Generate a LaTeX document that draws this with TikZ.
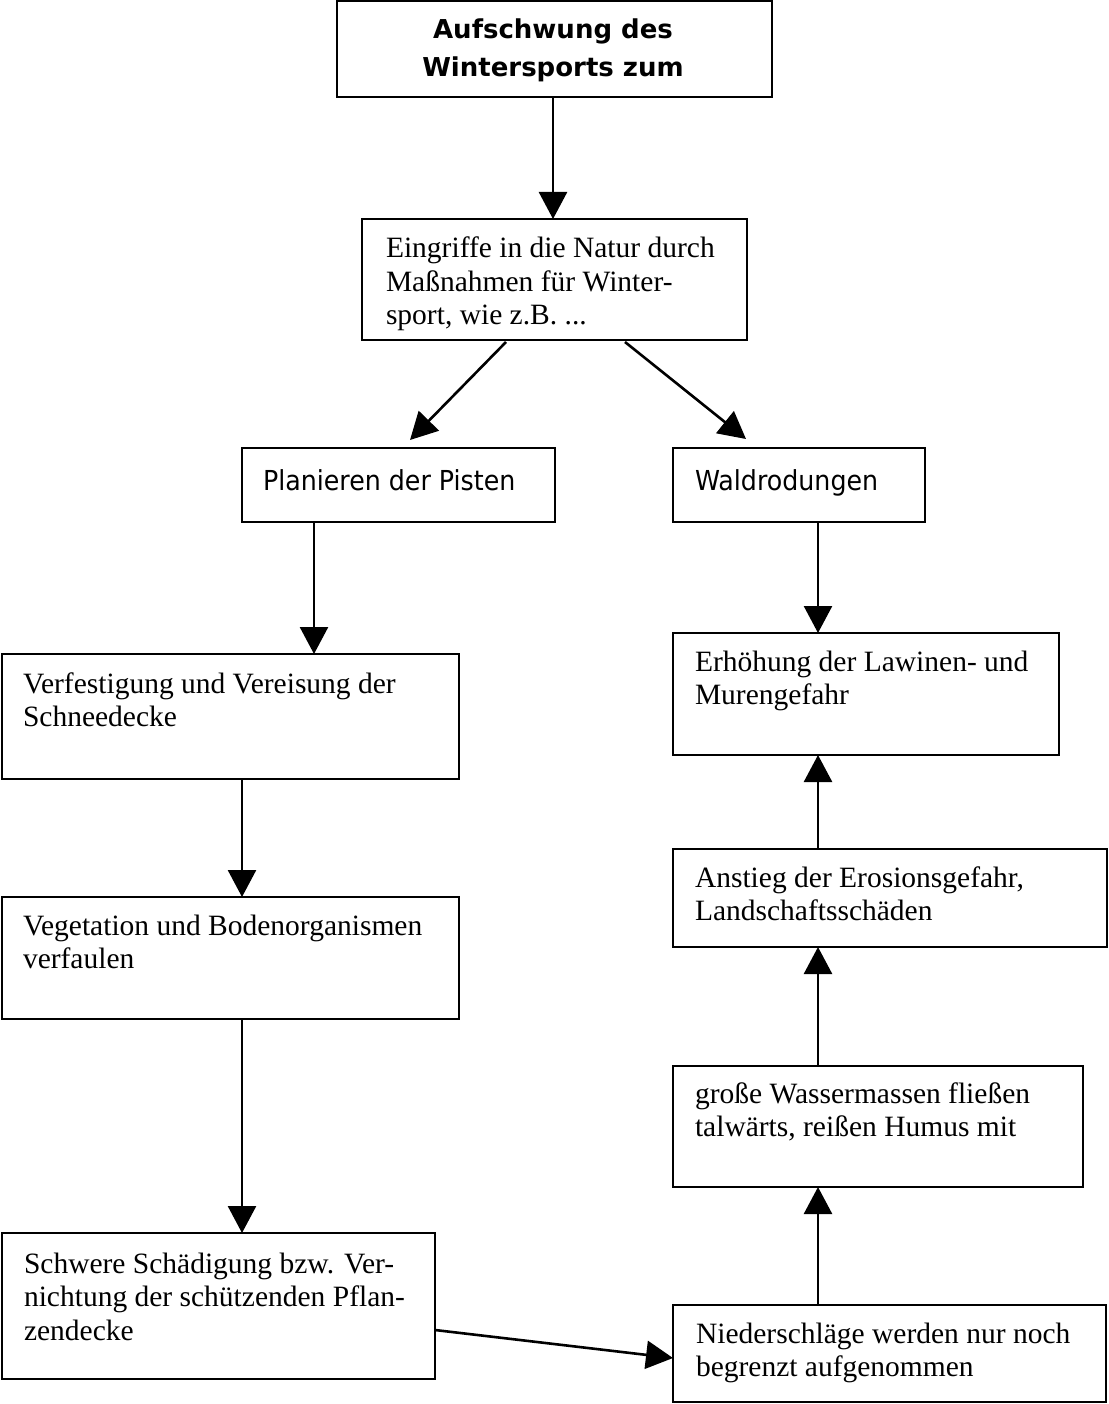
\documentclass[tikz,border=0pt]{standalone}
\usepackage{fontspec}
\setmainfont{Liberation Serif}
\newfontfamily\tahoma[FakeStretch=0.92]{DejaVu Sans}
\newfontfamily\tahomabold{DejaVu Sans Bold}
\usetikzlibrary{arrows.meta,calc}
\newcommand\boxtext[1]{\begin{tabular}[t]{@{}l@{}}#1\end{tabular}}
\newcommand\centertext[1]{\begin{tabular}[t]{@{}c@{}}#1\end{tabular}}
\begin{document}
\begin{tikzpicture}[x=1pt,y=-1pt,
  bx/.style={draw=black,line width=2pt,rectangle,inner sep=0pt,outer sep=0pt,anchor=north west},
  txt/.style={anchor=base west,inner sep=0pt,outer sep=0pt,font=\fontsize{29.5}{33.5}\selectfont},
  sanstxt/.style={anchor=base west,inner sep=0pt,outer sep=0pt,font=\tahoma\fontsize{27.5}{33}\selectfont},
  arr/.style={line width=2.6pt,-{Triangle[length=27pt,width=28pt]}}]
\useasboundingbox (0,0) rectangle (1108,1404);
% boxes
\node[bx,minimum width=435pt,minimum height=96pt] (top) at (337,1.5) {};
\node[bx,minimum width=385pt,minimum height=121pt] (eing) at (362,219) {};
\node[bx,minimum width=313pt,minimum height=74pt] (plan) at (242,448) {};
\node[bx,minimum width=252pt,minimum height=74pt] (wald) at (673,448) {};
\node[bx,minimum width=457pt,minimum height=125pt] (verf) at (2,654) {};
\node[bx,minimum width=386pt,minimum height=122pt] (erh) at (673,633) {};
\node[bx,minimum width=457pt,minimum height=122pt] (veg) at (2,897) {};
\node[bx,minimum width=434pt,minimum height=98pt] (anst) at (673,849) {};
\node[bx,minimum width=410pt,minimum height=121pt] (wass) at (673,1066) {};
\node[bx,minimum width=433pt,minimum height=146pt] (schw) at (2,1233) {};
\node[bx,minimum width=433pt,minimum height=97pt] (nied) at (673,1305) {};
% texts
\node[inner sep=0pt,anchor=base,font=\tahomabold\fontsize{26}{38}\selectfont] (ttop) at (553,39) {\centertext{Aufschwung des\\Wintersports zum}};
\node[txt] (teing) at ($(eing.north west)+(24,39)$) {\boxtext{Eingriffe in die Natur durch\\Maßnahmen für Winter-\\sport, wie z.B. ...}};
\node[sanstxt] (tplan) at ($(plan.north west)+(21,42)$) {Planieren der Pisten};
\node[sanstxt] (twald) at ($(wald.north west)+(22,42)$) {Waldrodungen};
\node[txt] (tverf) at ($(verf.north west)+(21,39)$) {\boxtext{Verfestigung und Vereisung der\\Schneedecke}};
\node[txt] (terh) at ($(erh.north west)+(22,38)$) {\boxtext{Erhöhung der Lawinen- und\\Murengefahr}};
\node[txt] (tveg) at ($(veg.north west)+(21,38)$) {\boxtext{Vegetation und Bodenorganismen\\verfaulen}};
\node[txt] (tanst) at ($(anst.north west)+(22,38)$) {\boxtext{Anstieg der Erosionsgefahr,\\Landschaftsschäden}};
\node[txt] (twass) at ($(wass.north west)+(22,37)$) {\boxtext{große Wassermassen fließen\\talwärts, reißen Humus mit}};
\node[txt] (tschw) at ($(schw.north west)+(22,40)$) {\boxtext{Schwere Schädigung bzw. Ver-\\nichtung der schützenden Pflan-\\zendecke}};
\node[txt] (tnied) at ($(nied.north west)+(23,38)$) {\boxtext{Niederschläge werden nur noch\\begrenzt aufgenommen}};
% arrows
\draw[arr] ($(top.south west)+(216,0)$) -- ($(eing.north west)+(191,0)$);
\draw[arr] ($(eing.south west)+(144,2)$) -- ($(plan.north west)+(168,-8)$);
\draw[arr] ($(eing.south west)+(263,2)$) -- ($(wald.north west)+(73,-9)$);
\draw[arr] ($(plan.south west)+(72,0)$) -- ($(verf.north west)+(312,0)$);
\draw[arr] ($(wald.south west)+(145,0)$) -- ($(erh.north west)+(145,0)$);
\draw[arr] ($(verf.south west)+(240,0)$) -- ($(veg.north west)+(240,0)$);
\draw[arr] ($(veg.south west)+(240,0)$) -- ($(schw.north west)+(240,0)$);
\draw[arr] ($(schw.north east)+(0,97)$) -- ($(nied.north west)+(0,53)$);
\draw[arr] ($(nied.north west)+(145,0)$) -- ($(wass.south west)+(145,0)$);
\draw[arr] ($(wass.north west)+(145,0)$) -- ($(anst.south west)+(145,0)$);
\draw[arr] ($(anst.north west)+(145,0)$) -- ($(erh.south west)+(145,0)$);
\end{tikzpicture}
\end{document}
